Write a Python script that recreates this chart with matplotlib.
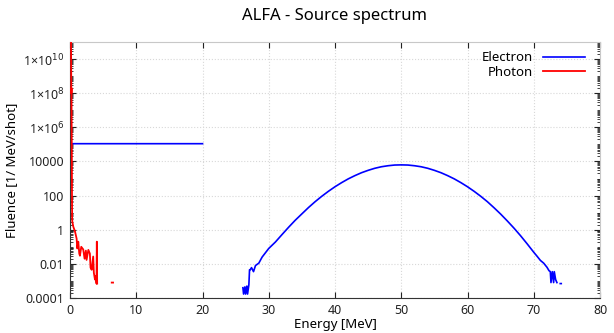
import matplotlib.pyplot as plt
import numpy as np
from matplotlib.ticker import FixedLocator, NullFormatter

plt.rcParams['font.family'] = ['Noto Sans', 'DejaVu Sans']

# electron spectrum: flat part, gap, then the peak (nan = empty bin)
e_energy = [0, 20, 20.5,
            25.6, 25.7, 26.1, 26.2, 26.4, 26.5, 26.7, 26.8, 27.0, 27.1, 27.2,
            27.4, 27.7, 28.0, 28.5, 29.0, 30, 31, 32, 33, 34, 35, 36, 37, 38,
            39, 40, 41, 42, 43, 44, 45, 46, 47, 48, 49, 50, 51, 52, 53, 54, 55,
            56, 57, 58, 59, 60, 61, 62, 63, 64, 65, 66, 67, 68, 69, 70, 70.5,
            71, 71.5, 72, 72.3, 72.5, 72.6, 72.8, 73.0, 73.1, 73.3, 73.5, 73.6,
            74.0, 74.15]
e_fluence = [1.1e5, 1.1e5, np.nan,
             0.00035, np.nan, 0.0004, 0.00017, 0.00045, 0.00017, 0.0005,
             0.00017, 0.0006, 0.0045, 0.0045,
             0.006, 0.0035, 0.008, 0.011, 0.025, 0.08, 0.19, 0.52, 1.4, 3.6,
             8.5, 20, 44, 91, 178, 330, 575, 955, 1480, 2190, 3020, 3980, 4900,
             5620, 6170, 6310, 6170, 5620, 4900, 3980, 3020, 2190, 1480, 955,
             575, 330, 178, 91, 44, 19.5, 8.3, 3.3, 1.26, 0.45, 0.15, 0.048,
             0.028, 0.016, 0.011, 0.0063, 0.004, 0.0035, 0.0008, 0.0035, 0.0008,
             0.0035, 0.0012, 0.0008, np.nan,
             0.0007, 0.0007]

p_energy = [0.15, 0.2, 0.22, 0.25, 0.28, 0.3, 0.32, 0.35, 0.5, 0.75, 1.0, 1.1,
            1.25, 1.4, 1.5, 1.7, 2.0, 2.2, 2.4, 2.5, 2.77, 3.0, 3.1, 3.27, 3.5,
            3.6, 3.77, 3.9, 4.0, 4.05, 4.1, 5.0, 6.3, 6.5]
p_fluence = [3e11, 1e8, 2e8, 1e6, 1e4, 100, 5, 3, 1.5, 0.8, 0.3, 0.08,
             0.2, 0.04, 0.03, 0.1, 0.07, 0.02, 0.06, 0.017, 0.066, 0.04, 0.006,
             0.0045, 0.027, 0.003, 0.0012, 0.002, 0.0007, 0.2, 0.0007, np.nan,
             0.0008, 0.0008]

ytick_vals = [1e-4, 1e-2, 1, 100, 1e4, 1e6, 1e8, 1e10]
ytick_labels = ['0.0001', '0.01', '1', '100', '10000',
                r'1×10$^{6}$', r'1×10$^{8}$', r'1×10$^{10}$']
xtick_vals = [0, 10, 20, 30, 40, 50, 60, 70, 80]

fig = plt.figure(figsize=(6.14, 3.33), dpi=100)
ax = fig.add_axes([70 / 614, 1 - 298 / 333, 530 / 614, 256 / 333])

ax.plot(e_energy, e_fluence, color='#0000ff', lw=1.2, label='Electron')
ax.plot(p_energy, p_fluence, color='#ff0000', lw=1.3, label='Photon',
        zorder=3)

ax.set_yscale('log')
ax.set_xlim(0, 80)
ax.set_ylim(1e-4, 1e11)
ax.set_xticks(xtick_vals)
ax.set_yticks(ytick_vals)
ax.set_yticklabels(ytick_labels)
minors = [m * 10.0 ** d for d in range(-4, 11) for m in range(1, 10)]
ax.yaxis.set_minor_locator(FixedLocator(minors))
ax.yaxis.set_minor_formatter(NullFormatter())

ax.tick_params(which='both', direction='in', top=True, right=True,
               labelsize=9, colors='#222222', pad=4)
ax.tick_params(which='major', length=4)
ax.tick_params(which='minor', length=2)
ax.grid(True, which='major', ls=':', color='#d8d8d8', lw=0.8)

for side in ['top', 'right']:
    ax.spines[side].set_color('#c8c8c8')
for side in ['left', 'bottom']:
    ax.spines[side].set_color('#333333')

ax.set_xlabel('Energy [MeV]', fontsize=9.5, labelpad=1)
ax.set_ylabel('Fluence [1/ MeV/shot]', fontsize=9.5)
fig.text(335 / 614, 1 - 16 / 333, 'ALFA - Source spectrum', ha='center',
         va='center', fontsize=12)

ax.legend(loc='upper right', frameon=False, markerfirst=False, fontsize=9.5,
          handlelength=3.2, borderaxespad=0.3, labelspacing=0.1,
          bbox_to_anchor=(0.99, 1.0))

fig.savefig('out.png', dpi=100)
